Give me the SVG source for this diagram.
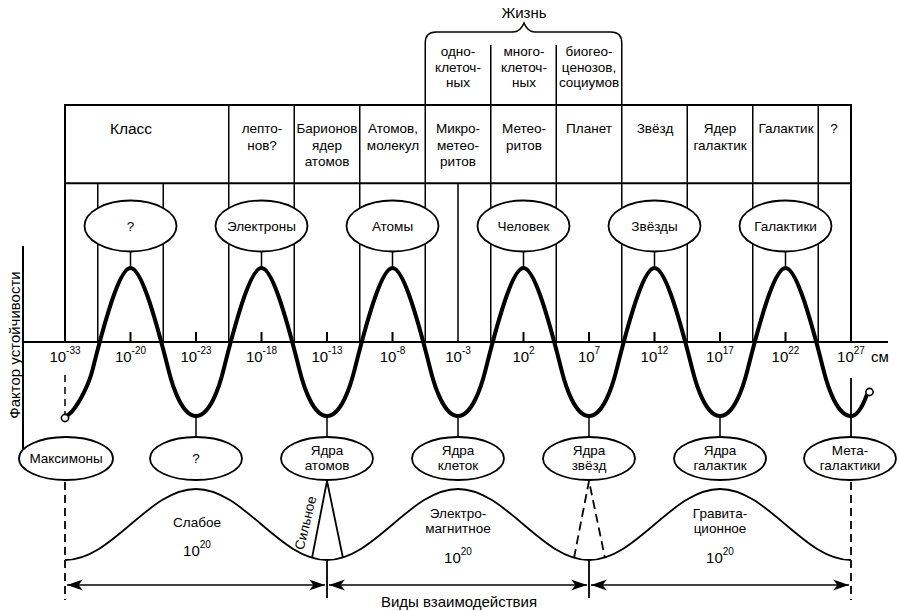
<svg xmlns="http://www.w3.org/2000/svg" width="899" height="611" viewBox="0 0 899 611">
<style>
text{font-family:'Liberation Sans',Arial,sans-serif;fill:#000;text-anchor:middle}
.t{font-size:13.5px}
.n{font-size:15px}
.s{font-size:10px}
.big{font-size:15px}
.frame{stroke:#000;stroke-width:2;fill:none}
.thin{stroke:#000;stroke-width:1.5;fill:none}
.ell{fill:#fff;stroke:#000;stroke-width:1.8}
.curve{fill:none;stroke:#000;stroke-width:4;stroke-linejoin:round;stroke-linecap:round}
.wave{fill:none;stroke:#000;stroke-width:1.8}
.dash{stroke:#000;stroke-width:1.8;stroke-dasharray:8 5;fill:none}
.arr{stroke:#000;stroke-width:1.6;fill:none;marker-start:url(#ah);marker-end:url(#ah)}
</style>
<defs>
<marker id="ah" viewBox="-18 -7 19 14" refX="0" refY="0" markerWidth="19" markerHeight="14" markerUnits="userSpaceOnUse" orient="auto-start-reverse">
<path d="M0,0 L-16,-5.5 L-11.5,0 L-16,5.5 Z" fill="#000"/>
</marker>
</defs>
<rect width="899" height="611" fill="#fff"/>

<g id="table">
<path class="frame" d="M65,105 H851 M65,183.3 H851 M65,104 V342 M851,104 V342"/>
<path class="thin" d="M228.75,105 V342 M294.25,105 V342 M359.75,105 V342 M425.25,105 V342 M490.75,105 V342 M556.25,105 V342 M621.75,105 V342 M687.25,105 V342 M752.75,105 V342 M818.25,105 V342 M97.75,183 V342 M163.25,183 V342 M458,183 V342"/>
<text class="big" x="131" y="133.5" style="font-size:15.5px">Класс</text>
<text class="t" x="262" y="133">лепто-</text>
<text class="t" x="262" y="149.5">нов?</text>
<text class="t" x="327" y="133">Барионов</text>
<text class="t" x="327" y="149.5">ядер</text>
<text class="t" x="327" y="166">атомов</text>
<text class="t" x="393" y="133">Атомов,</text>
<text class="t" x="393" y="149.5">молекул</text>
<text class="t" x="458" y="133">Микро-</text>
<text class="t" x="458" y="149.5">метео-</text>
<text class="t" x="458" y="166">ритов</text>
<text class="t" x="524" y="133">Метео-</text>
<text class="t" x="524" y="149.5">ритов</text>
<text class="t" x="589" y="133">Планет</text>
<text class="t" x="655" y="133">Звёзд</text>
<text class="t" x="720" y="133">Ядер</text>
<text class="t" x="720" y="149.5">галактик</text>
<text class="t" x="786" y="133">Галактик</text>
<text class="t" x="834" y="133">?</text>
</g>

<g id="life">
<path class="thin" d="M425.25,105 V43 Q425.25,32 436,32 H513 C519,32 522,28 524,23 C526,28 529,32 535,32 H611 Q621.75,32 621.75,43 V105 M490.75,45 V105 M556.25,45 V105"/>
<text class="big" x="524" y="18">Жизнь</text>
<text class="t" x="458" y="56">одно-</text>
<text class="t" x="458" y="71.5">клеточ-</text>
<text class="t" x="458" y="87">ных</text>
<text class="t" x="524" y="56">много-</text>
<text class="t" x="524" y="71.5">клеточ-</text>
<text class="t" x="524" y="87">ных</text>
<text class="t" x="589" y="56">биогео-</text>
<text class="t" x="589" y="71.5">ценозов,</text>
<text class="t" x="589" y="87">социумов</text>
</g>

<g id="axes">
<path class="frame" d="M23,342 H888 M23,246 V449"/>
<path class="frame" d="M130.5,332 V342 M196,332 V342 M261.5,332 V342 M327,332 V342 M392.5,332 V342 M523.5,332 V342 M589,332 V342 M654.5,332 V342 M720,332 V342 M785.5,332 V342"/>
<text class="big" transform="translate(20,345) rotate(-90)">Фактор устойчивости</text>
<text class="n" x="65" y="362">10<tspan class="s" dy="-8">-33</tspan></text>
<text class="n" x="130.5" y="362">10<tspan class="s" dy="-8">-20</tspan></text>
<text class="n" x="196" y="362">10<tspan class="s" dy="-8">-23</tspan></text>
<text class="n" x="261.5" y="362">10<tspan class="s" dy="-8">-18</tspan></text>
<text class="n" x="327" y="362">10<tspan class="s" dy="-8">-13</tspan></text>
<text class="n" x="392.5" y="362">10<tspan class="s" dy="-8">-8</tspan></text>
<text class="n" x="458" y="362">10<tspan class="s" dy="-8">-3</tspan></text>
<text class="n" x="523.5" y="362">10<tspan class="s" dy="-8">2</tspan></text>
<text class="n" x="589" y="362">10<tspan class="s" dy="-8">7</tspan></text>
<text class="n" x="654.5" y="362">10<tspan class="s" dy="-8">12</tspan></text>
<text class="n" x="720" y="362">10<tspan class="s" dy="-8">17</tspan></text>
<text class="n" x="785.5" y="362">10<tspan class="s" dy="-8">22</tspan></text>
<text class="n" x="851" y="362">10<tspan class="s" dy="-8">27</tspan></text>
<text class="n" x="871" y="362" style="text-anchor:start">см</text>
</g>

<g id="connectors">
<path class="curve" d="M67.5,415.5 C76,410 88.5,386 92.5,370 C107.5,310 120.5,268 130.5,268 C140.5,268 153.5,310 168.5,370 C172.5,386 182,416 196,416 C210,416 219.5,386 223.5,370 C238.5,310 251.5,268 261.5,268 C271.5,268 284.5,310 299.5,370 C303.5,386 313,416 327,416 C341,416 350.5,386 354.5,370 C369.5,310 382.5,268 392.5,268 C402.5,268 415.5,310 430.5,370 C434.5,386 444,416 458,416 C472,416 481.5,386 485.5,370 C500.5,310 513.5,268 523.5,268 C533.5,268 546.5,310 561.5,370 C565.5,386 575,416 589,416 C603,416 612.5,386 616.5,370 C631.5,310 644.5,268 654.5,268 C664.5,268 677.5,310 692.5,370 C696.5,386 706,416 720,416 C734,416 743.5,386 747.5,370 C762.5,310 775.5,268 785.5,268 C795.5,268 808.5,310 823.5,370 C827.5,386 837,416 851,416 C857,416 862,408 866.8,395"/>
<circle cx="65" cy="418" r="3.6" fill="#fff" stroke="#000" stroke-width="1.6"/>
<circle cx="869.5" cy="392" r="3.6" fill="#fff" stroke="#000" stroke-width="1.6"/>
<path class="thin" style="stroke-dasharray:7 5" d="M65,375 V414"/>
<path class="thin" d="M130.5,251 V268 M261.5,251 V268 M392.5,251 V268 M523.5,251 V268 M654.5,251 V268 M785.5,251 V268 M196,416 V437 M327,416 V437 M458,416 V437 M589,416 V437 M720,416 V437"/>
<path class="frame" style="stroke-width:1.8" d="M851,378 V437"/>
<path class="wave" d="M65,560 C112.7,560 148.3,489 196,489 C243.7,489 279.3,560 327,560 C374.7,560 410.3,489 458,489 C505.7,489 541.3,560 589,560 C636.7,560 672.3,489 720,489 C767.7,489 803.3,560 851,560"/>
<path class="wave" d="M312,558 L327,481 L343,558"/>
<path class="dash" style="stroke-dasharray:9 5" d="M574,558 L589,481 L605,558"/>
<path class="wave" d="M327,560 V598 M589,560 V598"/>
<path class="dash" d="M65,482 V600 M851,482 V600"/>
<path class="arr" d="M67,585 H325"/>
<path class="arr" d="M329,585 H587"/>
<path class="arr" d="M591,585 H849"/>
</g>

<g id="node-top-unknown"><ellipse class="ell" cx="130.5" cy="226" rx="46" ry="25.5"/><text class="t" x="130.5" y="231">?</text></g>
<g id="node-electrons"><ellipse class="ell" cx="261.5" cy="226" rx="46" ry="25.5"/><text class="t" x="261.5" y="231">Электроны</text></g>
<g id="node-atoms"><ellipse class="ell" cx="392.5" cy="226" rx="46" ry="25.5"/><text class="t" x="392.5" y="231">Атомы</text></g>
<g id="node-human"><ellipse class="ell" cx="523.5" cy="226" rx="46" ry="25.5"/><text class="t" x="523.5" y="231">Человек</text></g>
<g id="node-stars"><ellipse class="ell" cx="654.5" cy="226" rx="46" ry="25.5"/><text class="t" x="654.5" y="231">Звёзды</text></g>
<g id="node-galaxies"><ellipse class="ell" cx="785.5" cy="226" rx="46" ry="25.5"/><text class="t" x="785.5" y="231">Галактики</text></g>

<g id="node-maximons"><ellipse class="ell" cx="66" cy="458.5" rx="47" ry="21.5"/><text class="t" x="66" y="463">Максимоны</text></g>
<g id="node-bottom-unknown"><ellipse class="ell" cx="196" cy="458.5" rx="46" ry="21.5"/><text class="t" x="196" y="463">?</text></g>
<g id="node-nuclei-atoms"><ellipse class="ell" cx="327" cy="458.5" rx="46" ry="21.5"/><text class="t" x="327" y="455">Ядра</text><text class="t" x="327" y="470">атомов</text></g>
<g id="node-nuclei-cells"><ellipse class="ell" cx="458" cy="458.5" rx="46" ry="21.5"/><text class="t" x="458" y="455">Ядра</text><text class="t" x="458" y="470">клеток</text></g>
<g id="node-nuclei-stars"><ellipse class="ell" cx="589" cy="458.5" rx="46" ry="21.5"/><text class="t" x="589" y="455">Ядра</text><text class="t" x="589" y="470">звёзд</text></g>
<g id="node-nuclei-galaxies"><ellipse class="ell" cx="720" cy="458.5" rx="46" ry="21.5"/><text class="t" x="720" y="455">Ядра</text><text class="t" x="720" y="470">галактик</text></g>
<g id="node-metagalaxy"><ellipse class="ell" cx="850" cy="458.5" rx="46" ry="21.5"/><text class="t" x="850" y="455">Мета-</text><text class="t" x="850" y="470">галактики</text></g>

<g id="interactions">
<text class="t" x="197" y="527">Слабое</text>
<text class="n" x="197" y="556">10<tspan class="s" dy="-8">20</tspan></text>
<text class="t" transform="translate(310,524) rotate(-76.5)">Сильное</text>
<text class="t" x="458" y="518">Электро-</text>
<text class="t" x="458" y="533">магнитное</text>
<text class="n" x="458" y="563">10<tspan class="s" dy="-8">20</tspan></text>
<text class="t" x="720" y="518">Гравита-</text>
<text class="t" x="720" y="533">ционное</text>
<text class="n" x="720" y="563">10<tspan class="s" dy="-8">20</tspan></text>
<text class="big" x="459" y="607">Виды взаимодействия</text>
</g>
</svg>
